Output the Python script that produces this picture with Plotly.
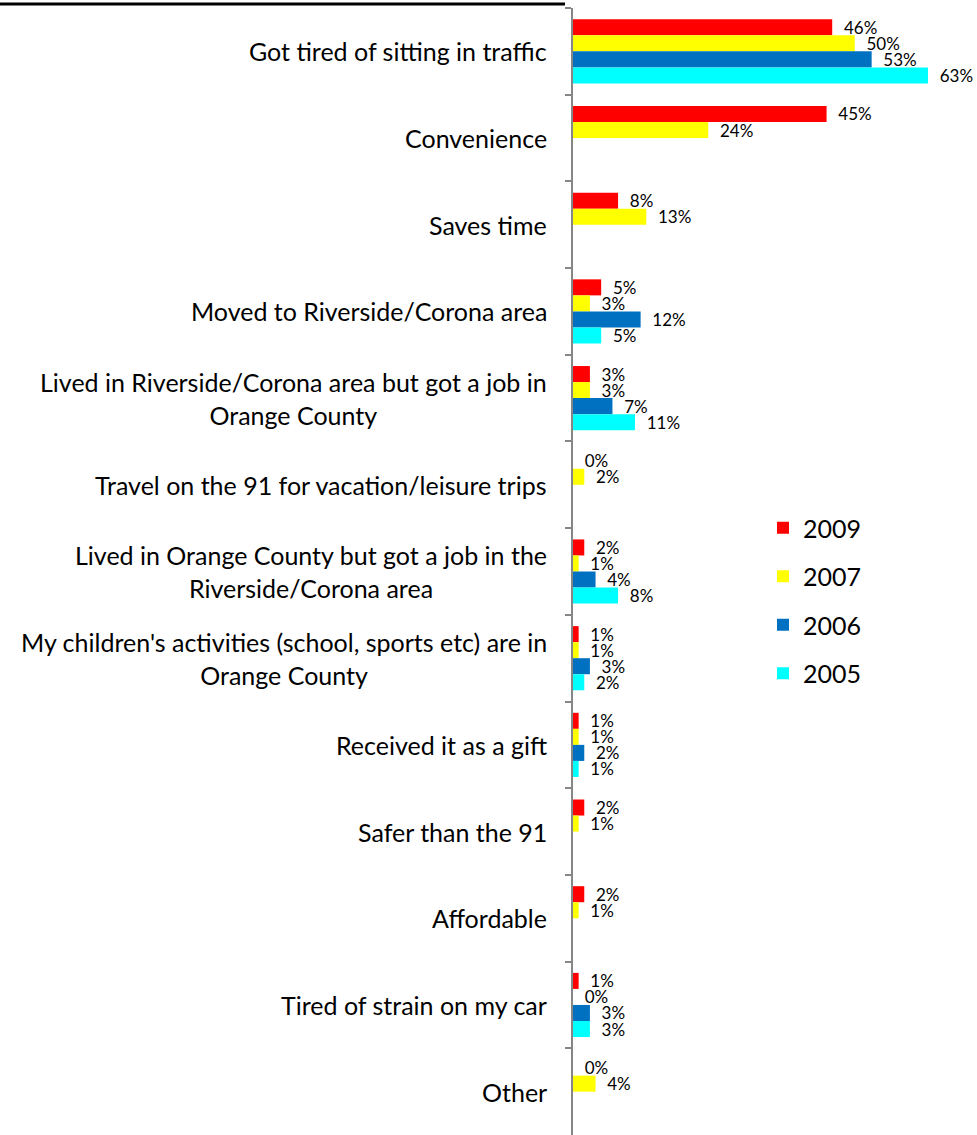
import plotly.graph_objects as go

categories = [
    "Got tired of sitting in traffic",
    "Convenience",
    "Saves time",
    "Moved to Riverside/Corona area",
    "Lived in Riverside/Corona area but got a job in<br>Orange County",
    "Travel on the 91 for vacation/leisure trips",
    "Lived in Orange County but got a job in the<br>Riverside/Corona area",
    "My children's activities (school, sports etc) are in<br>Orange County",
    "Received it as a gift",
    "Safer than the 91",
    "Affordable",
    "Tired of strain on my car",
    "Other",
]
years = ["2009", "2007", "2006", "2005"]
v2009 = [46, 45, 8, 5, 3, 0, 2, 1, 1, 2, 2, 1, 0]
v2007 = [50, 24, 13, 3, 3, 2, 1, 1, 1, 1, 1, 0, 4]
v2006 = [53, None, None, 12, 7, None, 4, 3, 2, None, None, 3, None]
v2005 = [63, None, None, 5, 11, None, 8, 2, 1, None, None, 3, None]
colors = ["#FF0000", "#FFFF00", "#0070C0", "#00FFFF"]

FONT = "Lato"
fig = go.Figure()
for name, vals, col in zip(years, [v2009, v2007, v2006, v2005], colors):
    fig.add_trace(go.Bar(
        y=categories, x=vals, name=name, orientation="h",
        marker=dict(color=col, line=dict(width=0)),
        texttemplate="  %{x}%", textposition="outside", cliponaxis=False,
        constraintext="none",
        textfont=dict(family=FONT, size=17, color="#000"),
        legendgroup=name,
    ))

annotations = []
for c in categories:
    annotations.append(dict(
        x=0, xref="paper", y=c, yref="y", xanchor="right", yanchor="middle",
        xshift=-24, text=c, showarrow=False, align="center",
        font=dict(family=FONT, size=25, color="#000"),
    ))

W, H = 977, 1135
L, R, T, B = 573, 0, 8, 0
pw, ph = W - L - R, H - T - B

fig.update_layout(
    width=W, height=H,
    margin=dict(l=L, r=R, t=T, b=B, pad=0),
    plot_bgcolor="white", paper_bgcolor="white",
    barmode="group", bargap=0.26, bargroupgap=0,
    xaxis=dict(range=[0, pw / 5.635], visible=False),
    yaxis=dict(
        type="category", autorange="reversed", showticklabels=False,
        showline=True, linecolor="#868686", linewidth=2,
        ticks="outside", ticklen=6, tickcolor="#868686", tickwidth=2,
        tickson="boundaries", showgrid=False, zeroline=False,
    ),
    legend=dict(
        x=(763 - L) / pw, y=1 - (505 - T) / ph, xanchor="left", yanchor="top",
        font=dict(family=FONT, size=25, color="#000"),
        tracegroupgap=13, bgcolor="rgba(0,0,0,0)",
    ),
    annotations=annotations,
    shapes=[dict(type="line", xref="paper", yref="paper", x0=-L / pw, x1=-8 / pw,
                 y0=1 + 4 / ph, y1=1 + 4 / ph, line=dict(color="#000", width=3))],
)

fig.write_html("out.html", config={"displayModeBar": False},
               post_script="document.body.style.margin='0';document.body.style.padding='0';")
